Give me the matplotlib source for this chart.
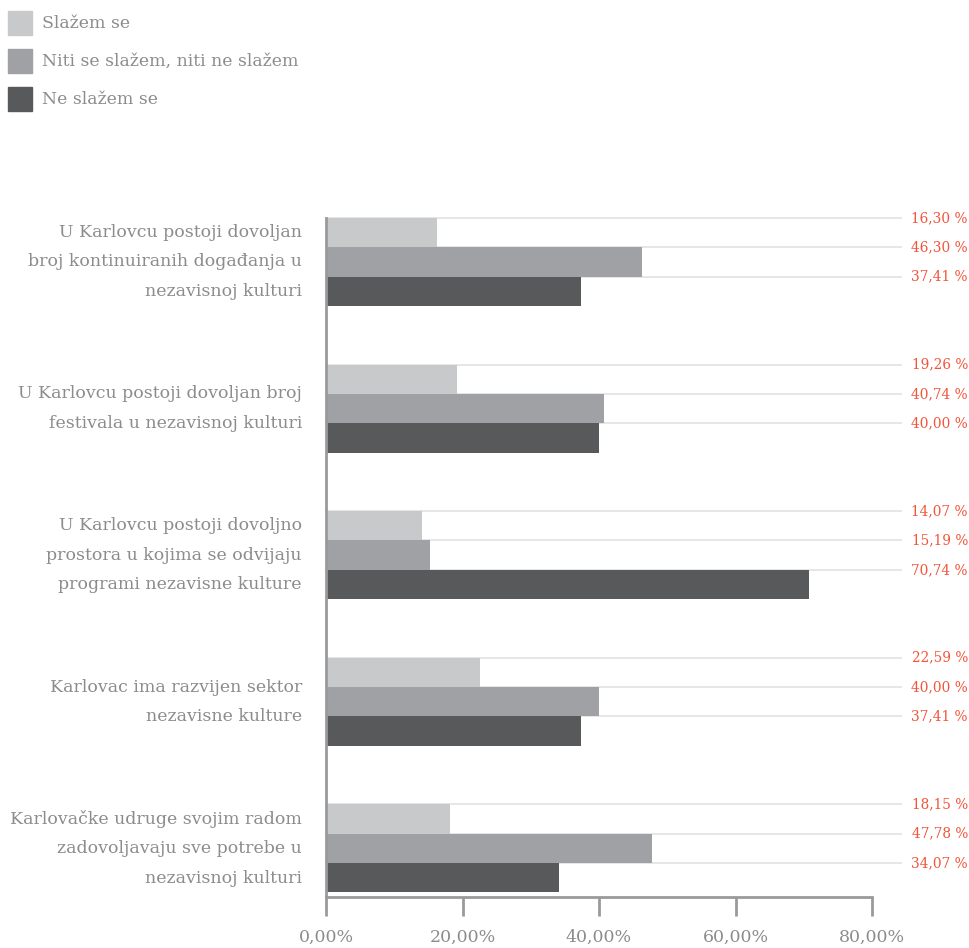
import matplotlib.pyplot as plt
import numpy as np

# categories and answer shares (%)
categories = [
    "U Karlovcu postoji dovoljan\nbroj kontinuiranih događanja u\nnezavisnoj kulturi",
    "U Karlovcu postoji dovoljan broj\nfestivala u nezavisnoj kulturi",
    "U Karlovcu postoji dovoljno\nprostora u kojima se odvijaju\nprogrami nezavisne kulture",
    "Karlovac ima razvijen sektor\nnezavisne kulture",
    "Karlovačke udruge svojim radom\nzadovoljavaju sve potrebe u\nnezavisnoj kulturi",
]
series_names = ["Slažem se", "Niti se slažem, niti ne slažem", "Ne slažem se"]
agree = [16.30, 19.26, 14.07, 22.59, 18.15]
neutral = [46.30, 40.74, 15.19, 40.00, 47.78]
disagree = [37.41, 40.00, 70.74, 37.41, 34.07]
xticks = [0, 20, 40, 60, 80]

colors = ["#c8c9cb", "#a0a1a4", "#58595b"]
text_gray = "#8c8c8e"
red = "#f2553a"
axis_gray = "#9a9a9c"

fig = plt.figure(figsize=(9.7, 9.48), dpi=100)
ax = fig.add_axes([326 / 970, 1 - 897 / 948, 546 / 970, 679 / 948])

h = 0.2
y = np.arange(len(categories))
for k, vals in enumerate([agree, neutral, disagree]):
    pos = y + (k - 1) * h
    ax.barh(pos, vals, height=h, color=colors[k], zorder=2)
    for p, v in zip(pos, vals):
        top = p - h / 2
        # grid line at the top of each bar, running past the axis
        ax.plot([0, 84.2], [top, top], color="#e2e2e3", lw=1.2,
                zorder=1, clip_on=False)
        ax.text(1.0 + 96 / 546, top, f"{v:.2f} %".replace(".", ","),
                transform=ax.get_yaxis_transform(), ha="right", va="center",
                color=red, fontsize=11, family="DejaVu Serif",
                fontstretch="condensed")

ax.set_xlim(0, 80)
ax.set_ylim(4.332, -0.3)
ax.set_xticks(xticks)
ax.set_xticklabels([f"{t:.2f}%".replace(".", ",") for t in xticks],
                   color=text_gray, fontsize=12.5, family="DejaVu Serif")
ax.tick_params(axis="x", length=14, width=2, color=axis_gray, pad=9)
ax.set_yticks([])
for s in ["top", "right"]:
    ax.spines[s].set_visible(False)
for s in ["left", "bottom"]:
    ax.spines[s].set_color(axis_gray)
    ax.spines[s].set_linewidth(2)

for yi, cat in zip(y, categories):
    ax.text(-24 / 546, yi, cat, transform=ax.get_yaxis_transform(),
            ha="right", va="center", multialignment="right",
            color=text_gray, fontsize=12.5, family="DejaVu Serif",
            linespacing=1.95)

# legend, top left
for i, name in enumerate(series_names):
    yt = 23 + i * 38
    fig.patches.append(plt.Rectangle((8 / 970, 1 - (yt + 12) / 948),
                                     24 / 970, 24 / 948,
                                     transform=fig.transFigure,
                                     color=colors[i]))
    fig.text(42 / 970, 1 - yt / 948, name, ha="left", va="center",
             color=text_gray, fontsize=12.4, family="DejaVu Serif")

fig.savefig("out.png", dpi=100)
